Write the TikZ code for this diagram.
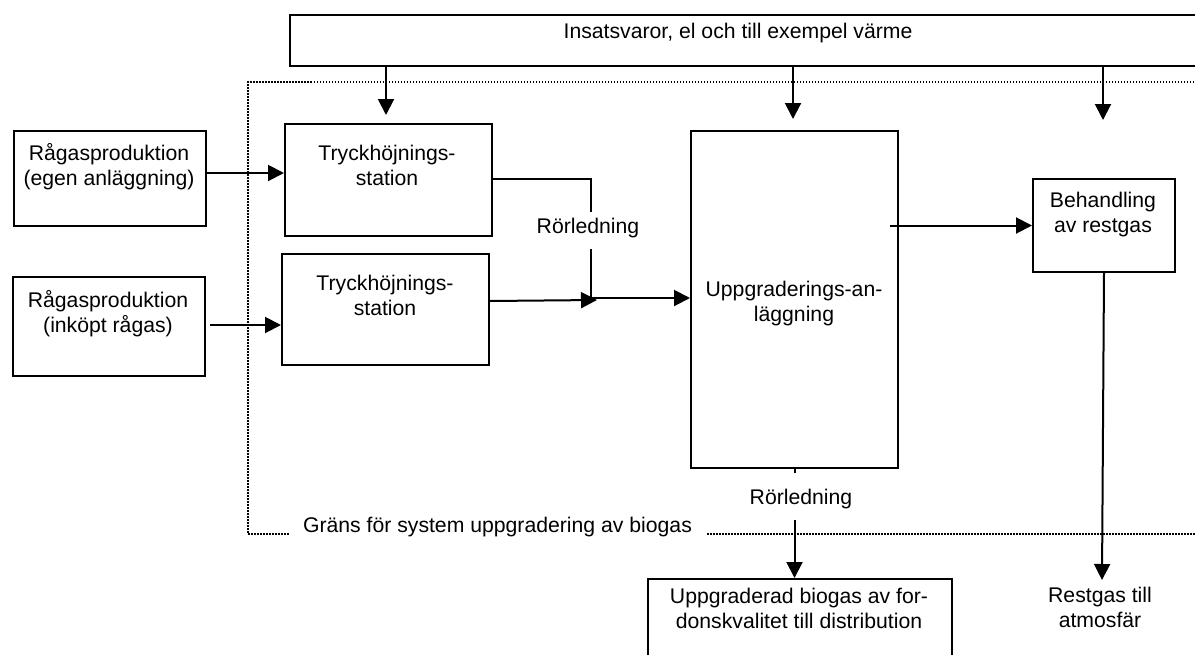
\documentclass[tikz,border=0pt]{standalone}
\usepackage{fontspec}
\setmainfont{Liberation Sans}
\usetikzlibrary{arrows.meta,calc}
\tikzset{
  box/.style={draw, line width=2pt, inner sep=0pt, anchor=north west},
  txt/.style={align=center, anchor=base, inner sep=0pt, font=\fontsize{21.2}{25}\selectfont},
  arr/.style={line width=2pt, -{Triangle[length=16pt,width=16pt]}},
  conn/.style={line width=2pt},
  bound/.style={line width=1.5pt, dash pattern=on 1.5pt off 1.5pt},
}
\begin{document}
\begin{tikzpicture}[x=1pt,y=-1pt]
\useasboundingbox (0,0) rectangle (1195,654);
% system boundary
\draw[bound] (1215,82) -- (248,82) -- (248,534) -- (1215,534);
% boxes
\node[box, minimum width=950pt, minimum height=51pt] (inp) at (289,14) {};
\node[box, minimum width=192pt, minimum height=95pt] (a1) at (13,130) {};
\node[box, minimum width=192pt, minimum height=99pt] (a2) at (12,276) {};
\node[box, minimum width=207pt, minimum height=112pt] (t1) at (284,123) {};
\node[box, minimum width=207pt, minimum height=111pt] (t2) at (281,253) {};
\node[box, minimum width=207pt, minimum height=337pt] (u) at (690,130) {};
\node[box, minimum width=142pt, minimum height=93pt] (b) at (1032,178) {};
\node[box, minimum width=304pt, minimum height=120pt] (d) at (647,578) {};
% texts (base anchor = baseline of the last line)
\node[txt] (inpt) at (738,38) {Insatsvaror, el och till exempel värme};
\node[txt] (a1t) at (109,185) {Rågasproduktion\\(egen anläggning)};
\node[txt] (a2t) at (108,332) {Rågasproduktion\\(inköpt rågas)};
\node[txt] (t1t) at (387,185) {Tryckhöjnings-\\station};
\node[txt] (t2t) at (385,315) {Tryckhöjnings-\\station};
\node[txt] (ut) at (794,321) {Uppgraderings-an-\\läggning};
\node[txt] (bt) at (1103,232) {Behandling\\av restgas};
\node[txt] (dt) at (799,628) {Uppgraderad biogas av for-\\donskvalitet till distribution};
\node[txt] (rt) at (1100,627) {Restgas till\\atmosfär};
\node[txt, text height=21pt, text depth=16pt] (rl1) at (588,233) {Rörledning};
\node[txt, text height=31pt, text depth=16pt] (rl2) at (801,504) {Rörledning};
\node[txt, fill=white, inner xsep=14pt, text height=18pt, text depth=6pt] (gr) at (497.5,532) {Gräns för system uppgradering av biogas};
% free ends
\coordinate (e1) at (386,115);
\coordinate (e2) at (793,119);
\coordinate (e3) at (1103,120);
\coordinate (e4) at (1102,580);
\coordinate (j) at (591,300);
% connectors
\draw[arr] (inp.south -| e1) -- (e1);
\draw[arr] (inp.south -| e2) -- (e2);
\draw[arr] (inp.south -| e3) -- (e3);
\coordinate (p1) at ([yshift=5.5pt]a1.east);
\draw[arr] (p1) -- (p1 -| t1.west);
\coordinate (p2) at ([xshift=4pt,yshift=1.5pt]a2.east);
\draw[arr] (p2) -- (p2 -| t2.west);
\draw[conn] ([yshift=1pt]t1.east) -| (rl1.north -| j);
\draw[conn] (rl1.south -| j) -- (j);
\coordinate (p3) at ([yshift=8.5pt]t2.east);
\draw[arr] (p3) -- ([xshift=6pt]j);
\draw[arr] ([yshift=2pt]j) -- ([yshift=2pt]j -| u.west);
\draw[arr] ([xshift=-9pt]u.east |- b.west) -- (b.west);
\draw[arr] (b.south) -- (e4);
\draw[conn] (u.south) -- (u.south |- rl2.north);
\draw[arr] (u.south |- rl2.south) -- (u.south |- d.north);
\end{tikzpicture}
\end{document}
